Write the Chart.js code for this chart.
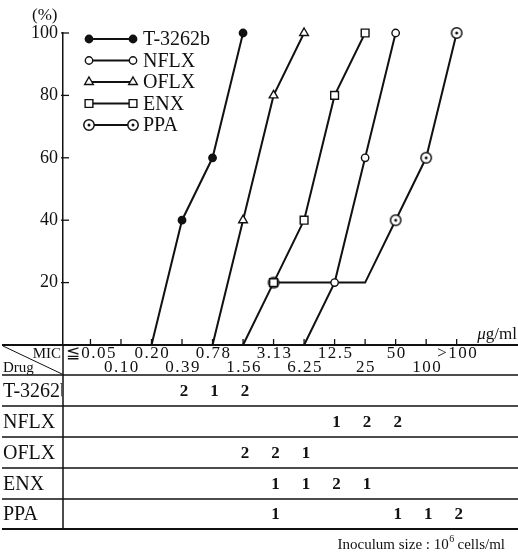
<!DOCTYPE html>
<html>
<head>
<meta charset="utf-8">
<script src="https://cdn.jsdelivr.net/npm/chart.js@4.4.1/dist/chart.umd.min.js"></script>
<style>
  body { margin: 0; background: #fff; }
  canvas { display: block; }
</style>
</head>
<body>
<canvas id="micChart" width="518" height="553"></canvas>
<script>
// MIC categories (ug/ml), left to right
const categories = ['≦0.05', '0.10', '0.20', '0.39', '0.78', '1.56', '3.13', '6.25', '12.5', '25', '50', '100', '>100']
const drugs = ['T-3262b', 'NFLX', 'OFLX', 'ENX', 'PPA']

// cumulative % of strains inhibited
const cumT3262b = [null, null, 0, 40, 60, 100, null, null, null, null, null, null, null]
const cumNFLX   = [null, null, null, null, null, null, null, 0, 20, 60, 100, null, null]
const cumOFLX   = [null, null, null, null, 0, 40, 80, 100, null, null, null, null, null]
const cumENX    = [null, null, null, null, null, 0, 20, 40, 80, 100, null, null, null]
const cumPPA    = [null, null, null, null, null, null, 20, 20, 20, 20, 40, 60, 100]

// number of strains per MIC (table under the chart)
const cntT3262b = [0, 0, 0, 2, 1, 2, 0, 0, 0, 0, 0, 0, 0]
const cntNFLX   = [0, 0, 0, 0, 0, 0, 0, 0, 1, 2, 2, 0, 0]
const cntOFLX   = [0, 0, 0, 0, 0, 2, 2, 1, 0, 0, 0, 0, 0]
const cntENX    = [0, 0, 0, 0, 0, 0, 1, 1, 2, 1, 0, 0, 0]
const cntPPA    = [0, 0, 0, 0, 0, 0, 1, 0, 0, 0, 1, 1, 2]

const yTicks = [20, 40, 60, 80, 100]

const INK = '#111'
const SERIF = '"Liberation Serif", "DejaVu Serif", serif'

// circle with a dot, for PPA
const dotCircle = document.createElement('canvas')
dotCircle.width = 14
dotCircle.height = 14
{
  const c = dotCircle.getContext('2d')
  c.strokeStyle = INK
  c.fillStyle = '#fff'
  c.lineWidth = 1.5
  c.beginPath(); c.arc(7, 7, 5.2, 0, Math.PI * 2); c.fill(); c.stroke()
  c.fillStyle = INK
  c.beginPath(); c.arc(7, 7, 1.5, 0, Math.PI * 2); c.fill()
}

const cums = [cumT3262b, cumNFLX, cumOFLX, cumENX, cumPPA]
const cnts = [cntT3262b, cntNFLX, cntOFLX, cntENX, cntPPA]
const styles = [
  { pointStyle: 'circle', radius: 3.7, fill: INK },
  { pointStyle: 'circle', radius: 3.7, fill: '#fff' },
  { pointStyle: 'triangle', radius: 5, fill: '#fff' },
  { pointStyle: 'rect', radius: 5.5, fill: '#fff' },
  { pointStyle: dotCircle, radius: 5, fill: '#fff' }
]

const datasets = drugs.map((name, d) => ({
  label: name,
  data: cums[d].map((v, i) => ({ x: i, y: v })),
  borderColor: INK,
  borderWidth: 2,
  tension: 0,
  spanGaps: false,
  clip: false,
  pointStyle: styles[d].pointStyle,
  pointRadius: cnts[d].map(n => n > 0 ? styles[d].radius : 0),
  pointBackgroundColor: styles[d].fill,
  pointBorderColor: INK,
  pointBorderWidth: 1.4
}))

const tablePlugin = {
  id: 'micTable',
  afterDraw(chart) {
    const ctx = chart.ctx
    const xs = chart.scales.x
    const ys = chart.scales.y
    const left = chart.chartArea.left
    const base = chart.chartArea.bottom
    const W = chart.width
    const rowLines = [375, 406, 437, 468, 499, 529]
    ctx.save()
    ctx.strokeStyle = INK
    ctx.fillStyle = INK

    // y ticks pointing inward
    ctx.lineWidth = 1.3
    yTicks.forEach(v => {
      const y = ys.getPixelForValue(v)
      ctx.beginPath(); ctx.moveTo(left - 2, y); ctx.lineTo(left + 6, y); ctx.stroke()
    })
    // x ticks pointing up
    categories.forEach((c, i) => {
      const x = xs.getPixelForValue(i)
      ctx.beginPath(); ctx.moveTo(x, base); ctx.lineTo(x, base - 6); ctx.stroke()
    })

    // vertical divider down through table
    ctx.lineWidth = 1.5
    ctx.beginPath(); ctx.moveTo(left, base); ctx.lineTo(left, rowLines[rowLines.length - 1]); ctx.stroke()

    // axis / table top line
    ctx.lineWidth = 2
    ctx.beginPath(); ctx.moveTo(2, base); ctx.lineTo(W, base); ctx.stroke()
    // row lines
    rowLines.forEach((y, k) => {
      ctx.lineWidth = k === rowLines.length - 1 ? 1.8 : 1.3
      ctx.beginPath(); ctx.moveTo(2, y); ctx.lineTo(W, y); ctx.stroke()
    })
    // header diagonal
    ctx.lineWidth = 1
    ctx.beginPath(); ctx.moveTo(3, base + 1); ctx.lineTo(left - 1, rowLines[0] - 1); ctx.stroke()

    // header captions
    ctx.font = '15px ' + SERIF
    ctx.textAlign = 'right'; ctx.textBaseline = 'alphabetic'
    ctx.fillText('MIC', left - 2, base + 13)
    ctx.textAlign = 'left'
    ctx.fillText('Drug', 3, base + 27)

    // MIC labels, staggered
    ctx.font = '17px ' + SERIF
    ctx.letterSpacing = '1.5px'
    ctx.textAlign = 'center'
    categories.forEach((c, i) => {
      const x = xs.getPixelForValue(i)
      ctx.fillText(c, x + 1, i % 2 === 0 ? base + 13 : base + 27)
    })
    ctx.letterSpacing = '0px'

    // unit
    ctx.textAlign = 'right'
    ctx.font = '17px ' + SERIF
    const unitRest = 'g/ml'
    const wRest = ctx.measureText(unitRest).width
    ctx.fillText(unitRest, W - 1, base - 6)
    ctx.font = 'italic 17px ' + SERIF
    ctx.fillText('μ', W - 1 - wRest, base - 6)

    // rows
    ctx.textBaseline = 'middle'
    drugs.forEach((name, d) => {
      const yc = (rowLines[d] + rowLines[d + 1]) / 2 + 1
      ctx.save()
      ctx.beginPath(); ctx.rect(0, rowLines[d], left - 1, 31); ctx.clip()
      ctx.textAlign = 'left'
      ctx.font = '20px ' + SERIF
      ctx.fillText(name, 3, yc)
      ctx.restore()
      ctx.textAlign = 'center'
      ctx.font = 'bold 17px ' + SERIF
      cnts[d].forEach((n, i) => {
        if (n > 0) ctx.fillText(String(n), xs.getPixelForValue(i) + 2, yc)
      })
    })

    // footnote
    ctx.textBaseline = 'alphabetic'
    ctx.textAlign = 'left'
    ctx.font = '15px ' + SERIF
    const p1 = 'Inoculum size : 10', p3 = ' cells/ml'
    const w1 = ctx.measureText(p1).width, w3 = ctx.measureText(p3).width
    ctx.font = '10px ' + SERIF
    const w2 = ctx.measureText('6').width
    const x0 = 505 - (w1 + w2 + w3)
    ctx.font = '15px ' + SERIF
    ctx.fillText(p1, x0, 549)
    ctx.fillText(p3, x0 + w1 + w2, 549)
    ctx.font = '10px ' + SERIF
    ctx.fillText('6', x0 + w1 + 0.5, 542)

    // (%) label
    ctx.font = '17px ' + SERIF
    ctx.textAlign = 'left'
    ctx.fillText('(%)', 32, 20)

    // legend: line with marker at both ends
    drugs.forEach((name, d) => {
      const y = 39 + d * 21.5
      const ds = chart.data.datasets[d]
      ctx.strokeStyle = INK
      ctx.lineWidth = 2
      ctx.beginPath(); ctx.moveTo(89, y); ctx.lineTo(133, y); ctx.stroke()
      ;[89, 133].forEach(x => {
        ctx.fillStyle = styles[d].fill
        ctx.lineWidth = 1.4
        Chart.helpers.drawPoint(ctx, { pointStyle: ds.pointStyle, radius: styles[d].radius, rotation: 0, borderWidth: 1.4 }, x, y)
      })
      ctx.fillStyle = INK
      ctx.font = '20px ' + SERIF
      ctx.textAlign = 'left'; ctx.textBaseline = 'middle'
      ctx.fillText(name, 143, y + 1)
    })
    ctx.restore()
  }
}

new Chart(document.getElementById('micChart'), {
  type: 'line',
  data: { datasets },
  options: {
    responsive: false,
    animation: false,
    events: [],
    layout: { padding: { top: 33, bottom: 208, left: 0, right: 0 } },
    plugins: { legend: { display: false }, tooltip: { enabled: false } },
    scales: {
      x: {
        type: 'linear',
        min: -0.9,
        max: 13.8,
        display: false
      },
      y: {
        min: 0,
        max: 100,
        afterFit(scale) { scale.width = 63 },
        afterBuildTicks(scale) { scale.ticks = yTicks.map(v => ({ value: v })) },
        border: { color: INK, width: 1.5 },
        grid: { drawOnChartArea: false, drawTicks: false },
        ticks: {
          padding: 5,
          color: INK,
          font: { family: SERIF, size: 18 }
        }
      }
    }
  },
  plugins: [tablePlugin]
})
</script>
</body>
</html>
